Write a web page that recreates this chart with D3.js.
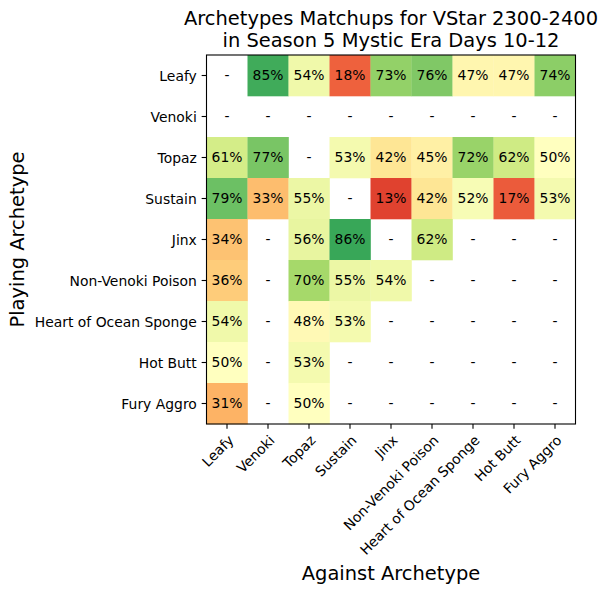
<!DOCTYPE html>
<html>
<head>
<meta charset="utf-8">
<script src="https://cdn.jsdelivr.net/npm/d3@7"></script>
<style>
  body { margin: 0; background: #fff; }
  svg { font-family: "DejaVu Sans", sans-serif; }
</style>
</head>
<body>
<div id="chart"></div>
<script>
// archetypes, same order on both axes
const archetypes = ["Leafy", "Venoki", "Topaz", "Sustain", "Jinx", "Non-Venoki Poison",
    "Heart of Ocean Sponge", "Hot Butt", "Fury Aggro"]

// win rate (%) of playing archetype (row) against archetype (column), null = no data
const leafyRow   = [null, 85, 54, 18, 73, 76, 47, 47, 74]
const venokiRow  = [null, null, null, null, null, null, null, null, null]
const topazRow   = [61, 77, null, 53, 42, 45, 72, 62, 50]
const sustainRow = [79, 33, 55, null, 13, 42, 52, 17, 53]
const jinxRow    = [34, null, 56, 86, null, 62, null, null, null]
const poisonRow  = [36, null, 70, 55, 54, null, null, null, null]
const spongeRow  = [54, null, 48, 53, null, null, null, null, null]
const hotButtRow = [50, null, 53, null, null, null, null, null, null]
const furyRow    = [31, null, 50, null, null, null, null, null, null]

const matchups = [leafyRow, venokiRow, topazRow, sustainRow, jinxRow, poisonRow, spongeRow, hotButtRow, furyRow]

const titleLines = ["Archetypes Matchups for VStar 2300-2400", "in Season 5 Mystic Era Days 10-12"]

var width = 608
var height = 593
var margin = { left: 206.5, top: 55, right: 608 - 575.5, bottom: 593 - 424 }
var plotW = width - margin.left - margin.right
var plotH = height - margin.top - margin.bottom

const svg = d3.select("#chart")
    .append("svg")
    .attr("width", width)
    .attr("height", height)

// matplotlib RdYlGn (linear segments between the 11 brewer colours)
const brewer = d3.schemeRdYlGn[11]
const colorScale = d3.scaleLinear()
    .domain(d3.range(11).map(i => i / 10))
    .range(brewer)
    .interpolate(d3.interpolateRgb)
    .clamp(true)

const x = d3.scaleBand().domain(archetypes).range([0, plotW])
const y = d3.scaleBand().domain(archetypes).range([0, plotH])

const g = svg.append("g").attr("transform", `translate(${margin.left},${margin.top})`)

var cells = []
matchups.forEach((row, i) => {
    row.forEach((v, j) => {
        cells.push({ playing: archetypes[i], against: archetypes[j], value: v })
    })
})

g.selectAll("rect.cell")
    .data(cells.filter(d => d.value !== null))
    .enter()
    .append("rect")
    .attr("class", "cell")
    .attr("x", d => x(d.against))
    .attr("y", d => y(d.playing))
    .attr("width", x.bandwidth() + 0.3)
    .attr("height", y.bandwidth() + 0.3)
    .attr("fill", d => colorScale(d.value / 100))

g.selectAll("text.cellLabel")
    .data(cells)
    .enter()
    .append("text")
    .attr("class", "cellLabel")
    .attr("x", d => x(d.against) + x.bandwidth() / 2)
    .attr("y", d => y(d.playing) + y.bandwidth() / 2)
    .attr("dy", "0.3em")
    .attr("text-anchor", "middle")
    .style("font-size", "13.9px")
    .text(d => d.value === null ? "-" : d.value + "%")

// frame
g.append("rect")
    .attr("width", plotW)
    .attr("height", plotH)
    .attr("fill", "none")
    .attr("stroke", "#000")
    .attr("stroke-width", 1.1)

const tickLen = 4.86
const tickPad = 4.86

// y axis ticks
archetypes.forEach(a => {
    var cy = y(a) + y.bandwidth() / 2
    g.append("line")
        .attr("x1", 0).attr("x2", -tickLen)
        .attr("y1", cy).attr("y2", cy)
        .attr("stroke", "#000").attr("stroke-width", 1.1)
    g.append("text")
        .attr("x", -tickLen - tickPad)
        .attr("y", cy)
        .attr("dy", "0.37em")
        .attr("text-anchor", "end")
        .style("font-size", "13.9px")
        .text(a)
})

// x axis ticks, rotated like rotation_mode="anchor"
archetypes.forEach(a => {
    var cx = x(a) + x.bandwidth() / 2
    g.append("line")
        .attr("x1", cx).attr("x2", cx)
        .attr("y1", plotH).attr("y2", plotH + tickLen)
        .attr("stroke", "#000").attr("stroke-width", 1.1)
    var ty = plotH + tickLen + tickPad
    g.append("text")
        .attr("transform", `translate(${cx},${ty}) rotate(-45)`)
        .attr("dy", "0.76em")
        .attr("text-anchor", "end")
        .style("font-size", "13.9px")
        .text(a)
})

// title
svg.selectAll("text.title")
    .data(titleLines)
    .enter()
    .append("text")
    .attr("class", "title")
    .attr("x", margin.left + plotW / 2)
    .attr("y", (d, i) => 25 + i * 21.7)
    .attr("text-anchor", "middle")
    .style("font-size", "19.44px")
    .text(d => d)

svg.append("text")
    .attr("x", margin.left + plotW / 2)
    .attr("y", 580)
    .attr("text-anchor", "middle")
    .style("font-size", "19.44px")
    .text("Against Archetype")

svg.append("text")
    .attr("transform", `translate(24,${margin.top + plotH / 2}) rotate(-90)`)
    .attr("text-anchor", "middle")
    .style("font-size", "19.44px")
    .text("Playing Archetype")
</script>
</body>
</html>
